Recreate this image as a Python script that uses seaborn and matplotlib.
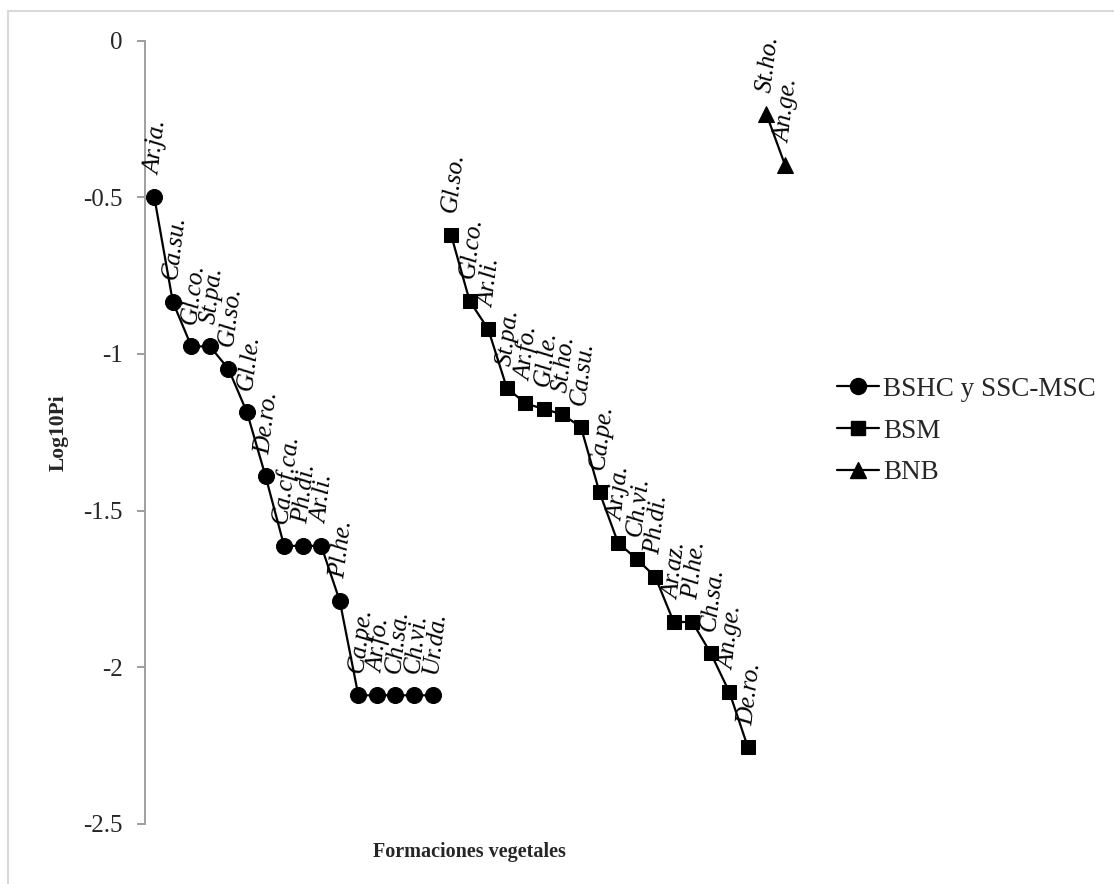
import numpy as np
import pandas as pd
import matplotlib
matplotlib.use("Agg")
import matplotlib.pyplot as plt
import seaborn as sns
from matplotlib.lines import Line2D
from matplotlib.patches import Rectangle
from matplotlib.ticker import FixedLocator, FuncFormatter

# Species abbreviations and log10 relative abundance per vegetation formation
bshc_species = ["Ar.ja.", "Ca.su.", "Gl.co.", "St.pa.", "Gl.so.", "Gl.le.", "De.ro.",
                "Ca.cf.ca.", "Ph.di.", "Ar.li.", "Pl.he.", "Ca.pe.", "Ar.fo.",
                "Ch.sa.", "Ch.vi.", "Ur.da."]
bshc_log = [-0.499, -0.834, -0.976, -0.976, -1.048, -1.187, -1.391,
            -1.613, -1.613, -1.613, -1.789, -2.090, -2.090,
            -2.090, -2.090, -2.090]

bsm_species = ["Gl.so.", "Gl.co.", "Ar.li.", "St.pa.", "Ar.fo.", "Gl.le.", "St.ho.",
               "Ca.su.", "Ca.pe.", "Ar.ja.", "Ch.vi.", "Ph.di.", "Ar.az.", "Pl.he.",
               "Ch.sa.", "An.ge.", "De.ro."]
bsm_log = [-0.620, -0.831, -0.921, -1.108, -1.158, -1.176, -1.193,
           -1.234, -1.442, -1.603, -1.655, -1.711, -1.856, -1.856,
           -1.956, -2.080, -2.256]

bnb_species = ["St.ho.", "An.ge."]
bnb_log = [-0.235, -0.397]

formations = ["BSHC y SSC-MSC", "BSM", "BNB"]
y_ticks = [0, -0.5, -1, -1.5, -2, -2.5]

# Long table: consecutive rank positions along the category axis
frames = []
for name, sp, vals in zip(formations,
                          [bshc_species, bsm_species, bnb_species],
                          [bshc_log, bsm_log, bnb_log]):
    frames.append(pd.DataFrame({"formation": name, "species": sp, "log10pi": vals}))
df = pd.concat(frames, ignore_index=True)
df["pos"] = np.arange(1, len(df) + 1)

sns.set_theme(style="white")
plt.rcParams["font.family"] = ["Liberation Serif", "DejaVu Serif"]
plt.rcParams["axes.unicode_minus"] = False

W, H = 1114, 884
fig = plt.figure(figsize=(W / 100, H / 100), dpi=100)
ax = fig.add_axes([145 / W, 1 - 823.7 / H, (794.3 - 145) / W, (823.7 - 40.7) / H])

marker_styles = {"BSHC y SSC-MSC": ("o", 11.5), "BSM": ("s", 10.5), "BNB": ("^", 11)}

for name in formations:
    sub = df[df["formation"] == name]
    m, ms = marker_styles[name]
    sns.lineplot(data=sub, x="pos", y="log10pi", ax=ax, color="black",
                 marker=m, markersize=ms, markeredgecolor="black",
                 markerfacecolor="black", linewidth=1.6, sort=False,
                 estimator=None, legend=False)
    for _, row in sub.iterrows():
        ax.annotate(row["species"], (row["pos"], row["log10pi"]),
                    xytext=(2, 21), textcoords="offset pixels",
                    rotation=83, ha="center", va="bottom",
                    fontstyle="italic", fontsize=18, color="black")

ax.set_xlim(0.5, len(df) + 0.5)
ax.set_ylim(-2.5, 0)
ax.set_xticks([])
ax.yaxis.set_major_locator(FixedLocator(y_ticks))
ax.yaxis.set_major_formatter(FuncFormatter(lambda v, p: f"{v:g}"))
ax.tick_params(axis="y", direction="out", length=6, width=1.2, color="#8c8c8c",
               labelsize=18, pad=10, left=True)
for side in ["top", "right", "bottom"]:
    ax.spines[side].set_visible(False)
ax.spines["left"].set_color("#a0a0a0")
ax.spines["left"].set_linewidth(1.4)
ax.set_facecolor("none")

ax.set_xlabel("Formaciones vegetales", fontsize=14.5, fontweight="bold")
ax.set_ylabel("Log10Pi", fontsize=15.5, fontweight="bold")
ax.xaxis.set_label_coords(0.5, -0.024)
ax.xaxis.label.set_va("top")
ax.yaxis.set_label_coords(-0.118, 0.5)

handles = [Line2D([0], [0], color="black", linewidth=1.6,
                  marker=marker_styles[n][0], markersize=marker_styles[n][1],
                  markerfacecolor="black", markeredgecolor="black")
           for n in formations]
fig.legend(handles, formations, loc="center left",
           bbox_to_anchor=(837 / W, 1 - 431 / H), frameon=False,
           fontsize=19.5, handlelength=1.55, handletextpad=0.15,
           labelspacing=0.62, borderpad=0, borderaxespad=0)

# Light chart-area border
fig.patches.append(Rectangle((8 / W, -0.2), 1.5, 1.2 - 11 / H,
                             transform=fig.transFigure, fill=False,
                             edgecolor="#d9d9d9", linewidth=1.5, zorder=0))

fig.savefig("out.png", dpi=100, facecolor="white")
